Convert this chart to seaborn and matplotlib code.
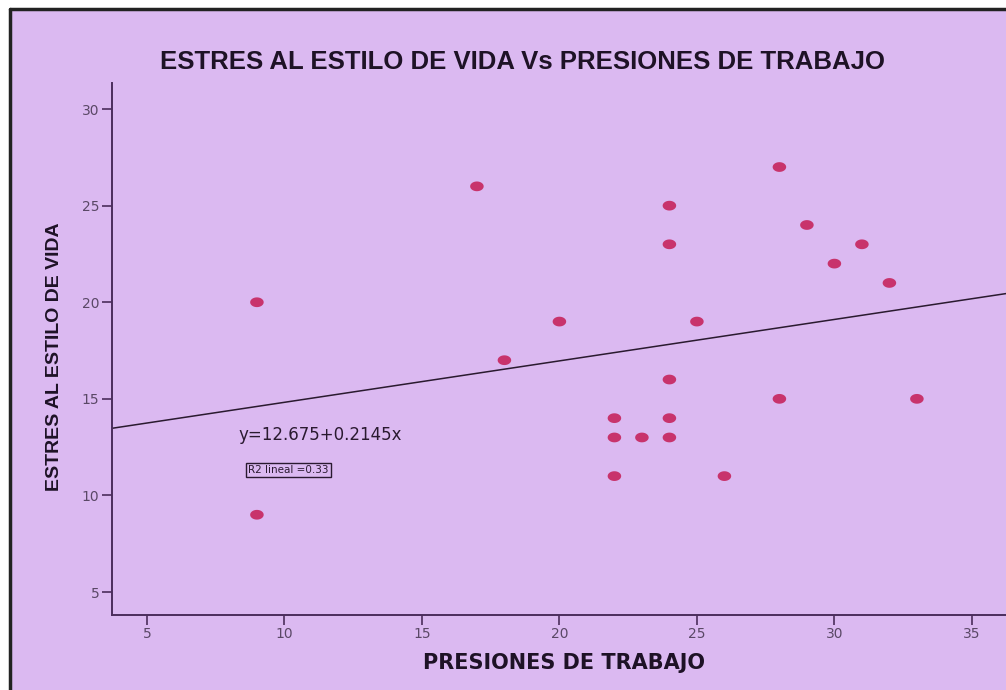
import numpy as np
import pandas as pd
import seaborn as sns
import matplotlib.pyplot as plt
from matplotlib.patches import Rectangle
from matplotlib.lines import Line2D
from matplotlib.path import Path

# Survey responses: work pressure score vs. lifestyle stress score
presiones = [9, 9, 17, 18, 20, 22, 22, 22, 23, 24, 24, 24, 24, 24, 25, 26, 28, 28, 29, 30, 31, 32, 33]
estres = [20, 9, 26, 17, 19, 14, 13, 11, 13, 25, 23, 16, 14, 13, 19, 11, 27, 15, 24, 22, 23, 21, 15]

# Fitted linear model shown on the chart
intercepto = 12.675
pendiente = 0.2145
r2_lineal = 0.33

x_ticks = [5, 10, 15, 20, 25, 30, 35]
y_ticks = [5, 10, 15, 20, 25, 30]

BG = "#dbb9f1"
AXC = "#4b2d5c"
DOT = "#c8336c"
INK = "#1e1226"

sns.set_theme(style="white")
plt.rcParams["font.family"] = ["Liberation Sans", "DejaVu Sans"]

W, H = 1006, 690
fig = plt.figure(figsize=(W / 100, H / 100), dpi=100, facecolor=BG)

# White margin above and to the left of the panel, with a dark frame
fig.patches.append(Rectangle((0, 1 - 9 / H), 1, 9 / H, transform=fig.transFigure,
                             facecolor="white", edgecolor="none", zorder=-5))
fig.patches.append(Rectangle((0, 0), 10 / W, 1, transform=fig.transFigure,
                             facecolor="white", edgecolor="none", zorder=-5))
fig.lines.append(Line2D([10 / W, 10 / W], [0, 1 - 9 / H], transform=fig.transFigure,
                        color="#222222", lw=2.5, zorder=5))
fig.lines.append(Line2D([10 / W, 1], [1 - 9 / H, 1 - 9 / H], transform=fig.transFigure,
                        color="#222222", lw=2.5, zorder=5))

left, right = 112 / W, 1.0
bottom, top = 1 - 615 / H, 1 - 83 / H
ax = fig.add_axes([left, bottom, right - left, top - bottom])
ax.set_facecolor(BG)

# Slightly wide oval marker
t = np.linspace(0, 2 * np.pi, 41)
oval = Path(np.column_stack([np.cos(t), 0.72 * np.sin(t)]), closed=True)

df = pd.DataFrame({"PRESIONES DE TRABAJO": presiones, "ESTRES AL ESTILO DE VIDA": estres})
sns.scatterplot(data=df, x="PRESIONES DE TRABAJO", y="ESTRES AL ESTILO DE VIDA", ax=ax,
                color=DOT, marker=oval, s=95, edgecolor="none", zorder=3)

xmin, xmax = 3.73, 36.24
ymin, ymax = 3.81, 31.35
ax.set_xlim(xmin, xmax)
ax.set_ylim(ymin, ymax)

xs = np.array([xmin, xmax])
ax.plot(xs, intercepto + pendiente * xs, color="#2a1a30", lw=1.1, zorder=2)

ax.set_xticks(x_ticks)
ax.set_yticks(y_ticks)
ax.tick_params(axis="both", direction="out", length=7, width=1.2, color=AXC,
               labelsize=10, labelcolor="#5a4866", pad=2, bottom=True, left=True)
for lab in ax.get_xticklabels() + ax.get_yticklabels():
    lab.set_family("DejaVu Sans")

for side in ["top", "right"]:
    ax.spines[side].set_visible(False)
for side in ["left", "bottom"]:
    ax.spines[side].set_color(AXC)
    ax.spines[side].set_linewidth(1.4)

ax.set_xlabel("PRESIONES DE TRABAJO", fontsize=15, fontweight="bold", color=INK,
              family="DejaVu Sans")
ax.set_ylabel("ESTRES AL ESTILO DE VIDA", fontsize=14, fontweight="bold", color=INK)
ax.xaxis.set_label_coords((564 - 112) / (W - 112), -(663 - 615) / 532)
ax.yaxis.set_label_coords(-(112 - 55) / (W - 112), (615 - 357) / 532)
ax.xaxis.label.set_va("center")
ax.yaxis.label.set_va("center")

fig.text(0.519, 1 - 62 / H, "ESTRES AL ESTILO DE VIDA Vs PRESIONES DE TRABAJO",
         ha="center", va="center", fontsize=18.5, fontweight="bold", color=INK)

ax.text(8.31, 13.13, f"y={intercepto}+{pendiente}x", fontsize=12, color="#2a1a30",
        ha="left", va="center", family="DejaVu Sans")
ax.text(8.68, 11.31, f"R2 lineal ={r2_lineal}", fontsize=7.5, color="#2a1a30", ha="left",
        va="center", family="DejaVu Sans",
        bbox=dict(boxstyle="square,pad=0.2", facecolor="none", edgecolor="#2a1a30", lw=1))

fig.savefig("out.png", dpi=100, facecolor=BG)
